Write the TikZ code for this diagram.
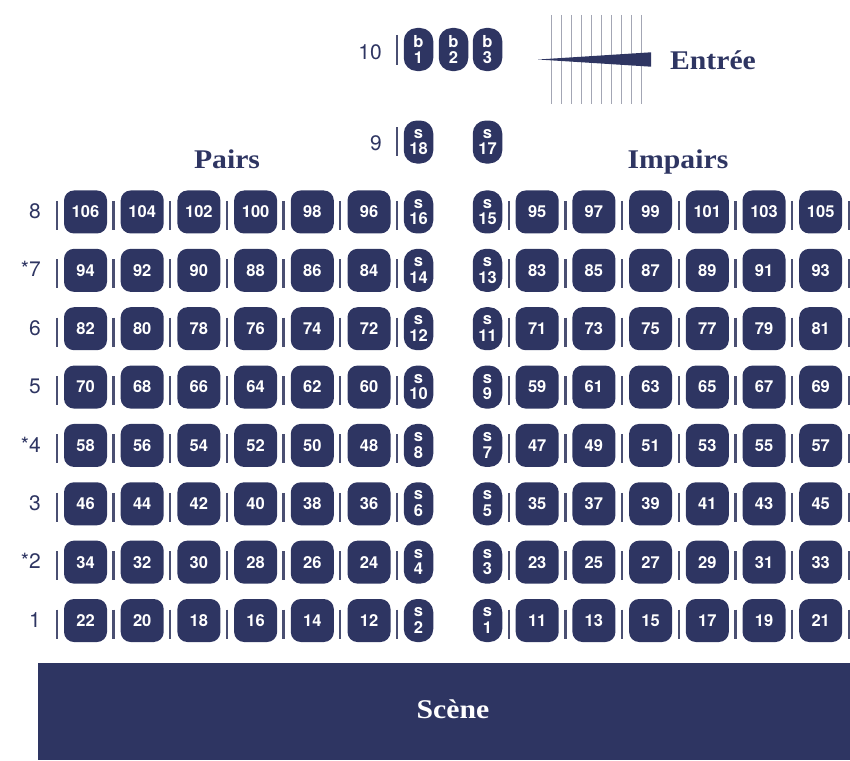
\documentclass[tikz,border=0pt]{standalone}
\usepackage{fontspec}
\setmainfont{TeX Gyre Heros}
\newfontfamily\headfont[FakeStretch=1.1]{Liberation Serif}
\definecolor{navy}{HTML}{2E3562}
\definecolor{barcol}{HTML}{4A4F72}
\definecolor{linecol}{HTML}{A3A6B4}
\tikzset{
  seatbase/.style={fill=navy,text=white,inner sep=0pt,align=center,
    font=\fontsize{16.5}{16.5}\selectfont\bfseries},
  seatwide/.style={seatbase,minimum width=43pt,minimum height=43pt,rounded corners=10pt},
  seatnarrow/.style={seatbase,minimum width=29.5pt,minimum height=43pt,rounded corners=13pt},
  rowlabel/.style={text=navy,inner sep=0pt,anchor=east,font=\fontsize{21}{21}\selectfont},
  headlabel/.style={text=navy,inner sep=0pt,anchor=base,font=\fontsize{27}{27}\selectfont\headfont\bfseries},
  tick/.style={draw=barcol,line width=2.3pt},
  gridline/.style={draw=linecol,line width=1pt}
}
\newcommand{\stacked}[2]{\fontsize{16.5}{17.5}\selectfont #1\\#2}
\begin{document}
\begin{tikzpicture}[x=1pt,y=-1pt]
\useasboundingbox (0,0) rectangle (850,760);
% stage
\node[fill=navy,inner sep=0pt,minimum width=812pt,minimum height=97pt,anchor=north west] (stage) at (38,663) {};
\node[headlabel,text=white] (scene) at (453,718) {Scène};
% rows 1..8
\foreach \r in {1,...,8}{
  \pgfmathsetmacro{\yc}{620.5-58.36*(\r-1)}
  \pgfmathtruncatemacro{\sl}{2*\r}
  \pgfmathtruncatemacro{\sr}{2*\r-1}
  % left block
  \foreach \i in {0,...,5}{
    \pgfmathsetmacro{\xl}{64+56.7*\i}
    \pgfmathtruncatemacro{\nl}{22+12*(\r-1)-2*\i}
    \node[seatwide] (L\nl) at (\xl+21.5,\yc) {\nl};
    \draw[tick] (\xl-7.3,\yc-11) -- (\xl-7.3,\yc+18);
  }
  \node[seatnarrow] (SL\sl) at (418.5,\yc) {\stacked{s}{\sl}};
  \draw[tick] (396.7,\yc-11) -- (396.7,\yc+18);
  % right block
  \node[seatnarrow] (SR\sr) at (487.5,\yc) {\stacked{s}{\sr}};
  \foreach \i in {0,...,5}{
    \pgfmathsetmacro{\xr}{515.7+56.7*\i}
    \pgfmathtruncatemacro{\nr}{11+12*(\r-1)+2*\i}
    \node[seatwide] (R\nr) at (\xr+21.5,\yc) {\nr};
    \draw[tick] (\xr-7,\yc-11) -- (\xr-7,\yc+18);
  }
  \draw[tick] (849,\yc-11) -- (849,\yc+18);
}
% row labels
\node[rowlabel] (r8) at (41,211) {8};
\node[rowlabel] (r7) at (41,269) {*7};
\node[rowlabel] (r6) at (41,328) {6};
\node[rowlabel] (r5) at (41,386) {5};
\node[rowlabel] (r4) at (41,445) {*4};
\node[rowlabel] (r3) at (41,503) {3};
\node[rowlabel] (r2) at (41,561) {*2};
\node[rowlabel] (r1) at (41,620) {1};
\node[rowlabel] (r10) at (382,52) {10};
\node[rowlabel] (r9) at (382,143) {9};
% top seats
\node[seatnarrow] (b1) at (418.5,49.5) {\stacked{b}{1}};
\node[seatnarrow] (b2) at (453.5,49.5) {\stacked{b}{2}};
\node[seatnarrow] (b3) at (487.5,49.5) {\stacked{b}{3}};
\node[seatnarrow] (s18) at (418.5,142) {\stacked{s}{18}};
\node[seatnarrow] (s17) at (487.5,142) {\stacked{s}{17}};
\draw[tick] (396.7,35) -- (396.7,65);
\draw[tick] (396.7,127) -- (396.7,156);
% entrance
\foreach \x in {551,561,571,581,591,601,611,621,631,641}{
  \draw[gridline] (\x,15) -- (\x,104);
}
\fill[navy] (538,59.5) -- (651,52.3) -- (651,66.7) -- cycle;
\node[headlabel] (entree) at (713,69) {Entrée};
\node[headlabel] (pairs) at (227,168) {Pairs};
\node[headlabel] (impairs) at (678,168) {Impairs};
\end{tikzpicture}
\end{document}
